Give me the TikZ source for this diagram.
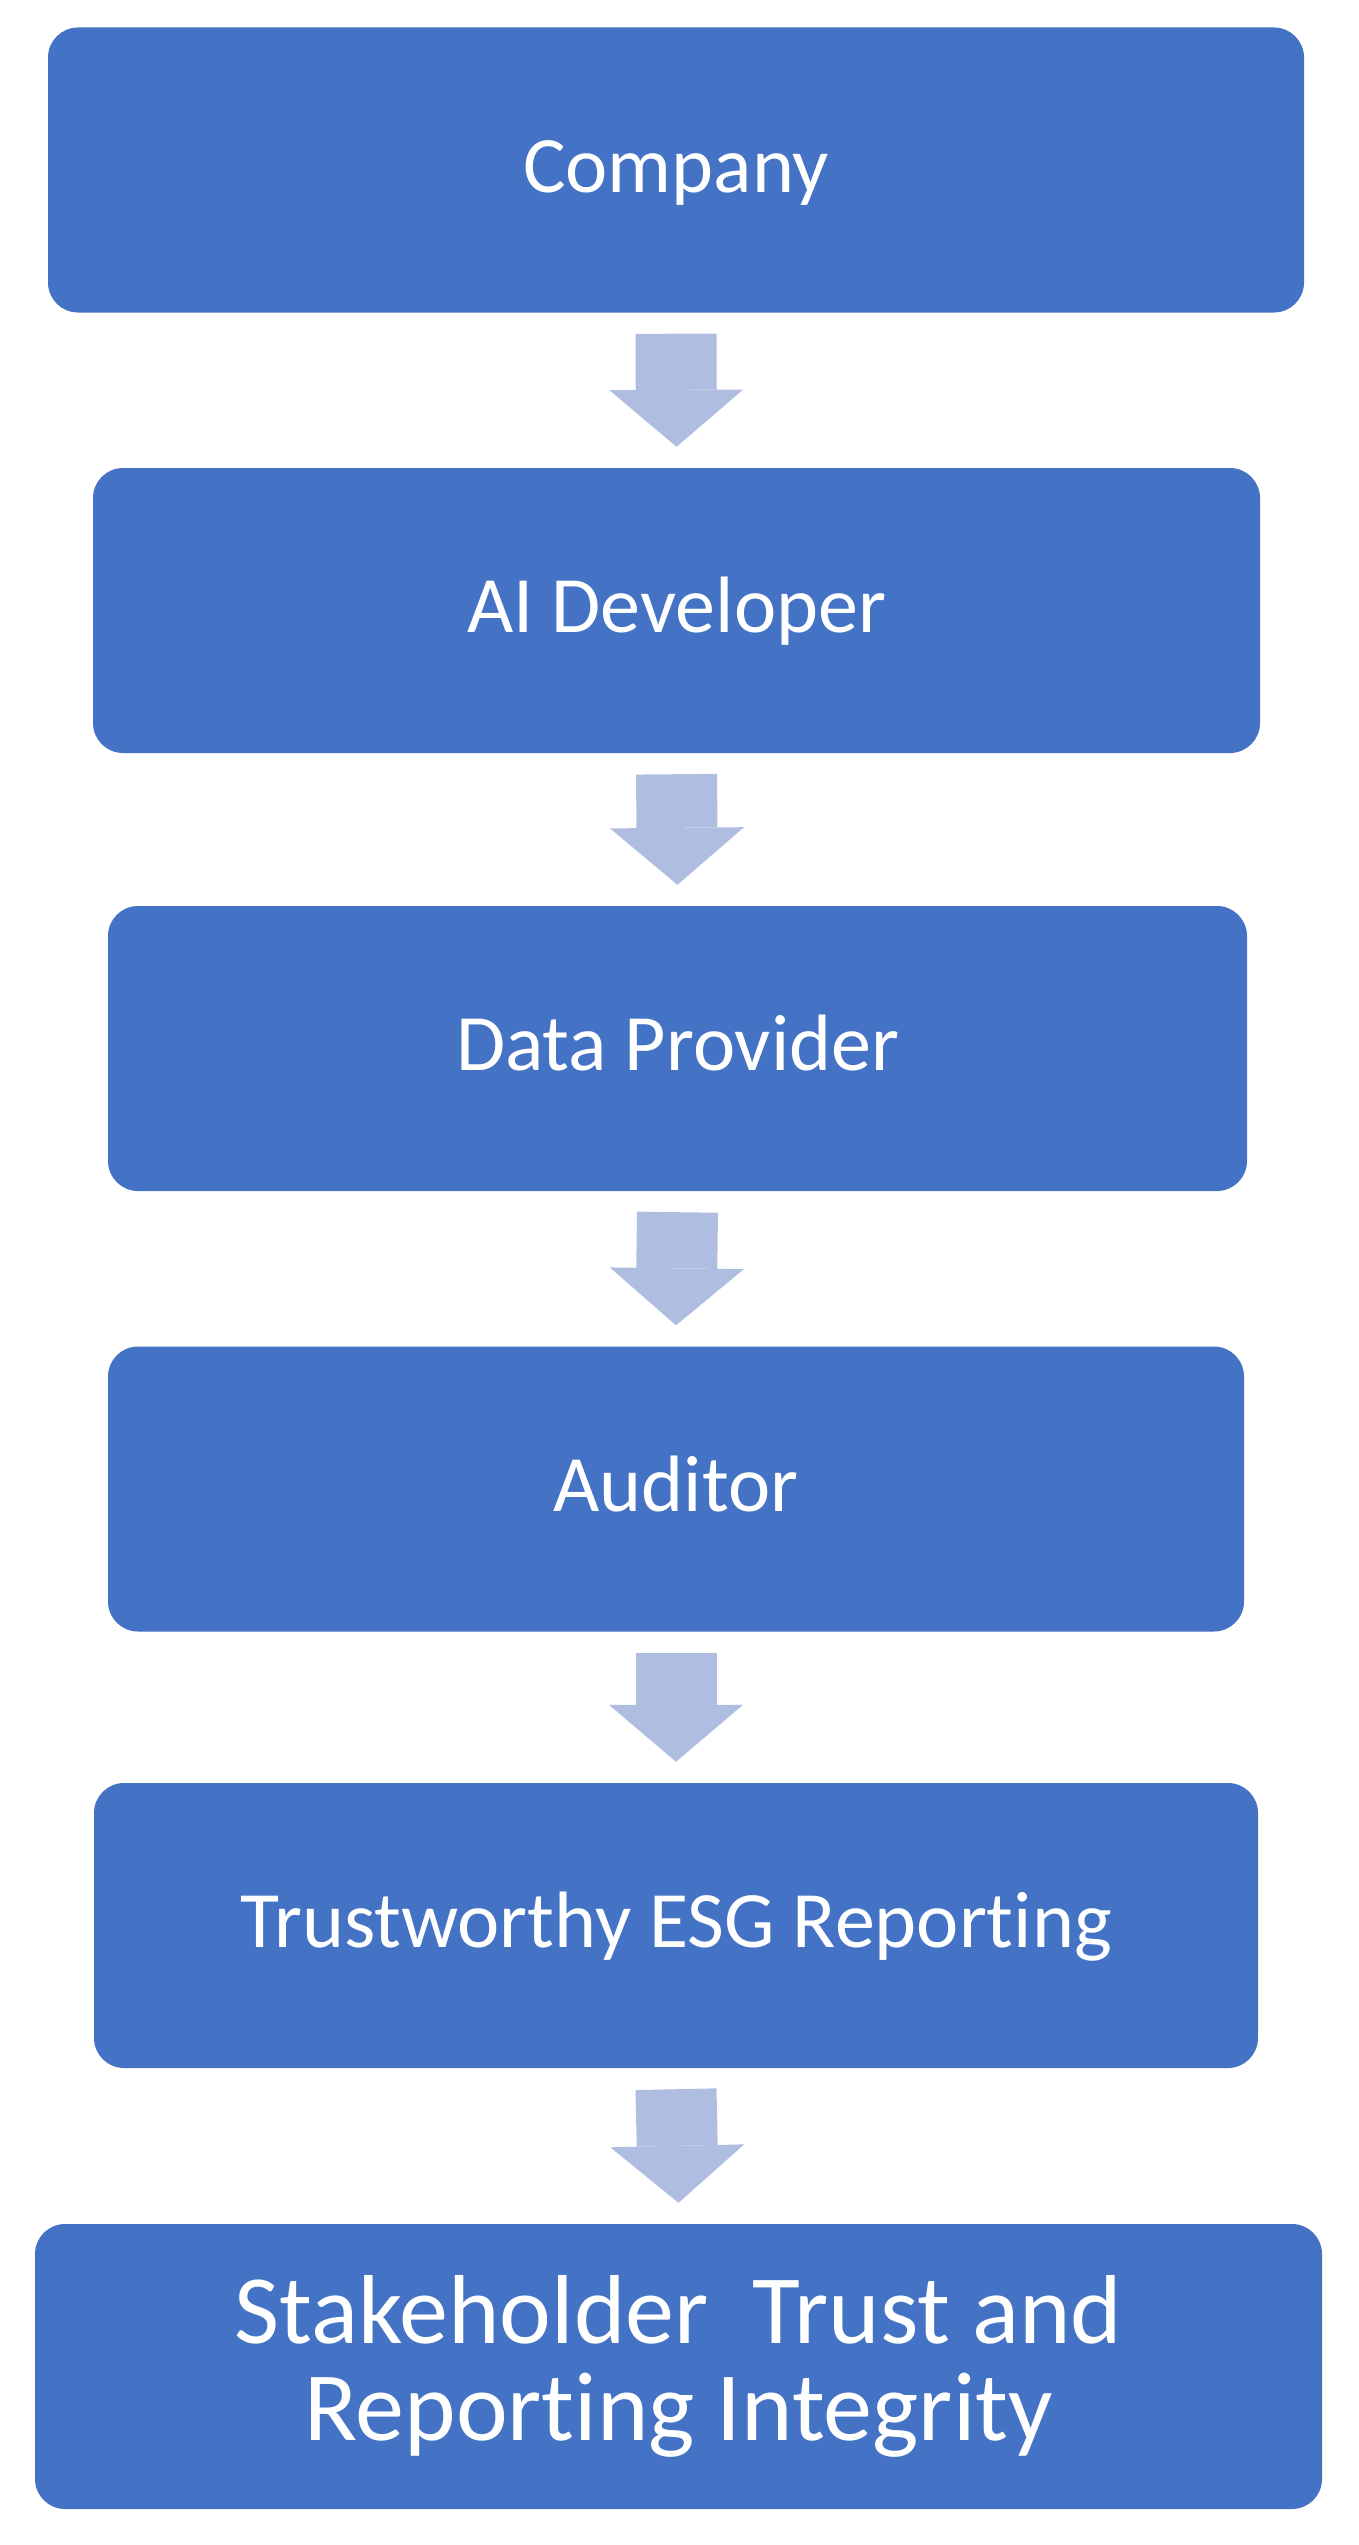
\documentclass[tikz,border=0pt]{standalone}
\usepackage{fontspec}
\setmainfont{Carlito}[RawFeature={-liga;-clig;-calt;-dlig}]
\usetikzlibrary{arrows.meta}
\definecolor{boxblue}{HTML}{4472C4}
\definecolor{arrowblue}{HTML}{AFBDE0}
\begin{document}
\begin{tikzpicture}[x=1pt,y=1pt]
 \tikzset{stage/.style={fill=boxblue, rounded corners=30pt, inner sep=0pt, text=white, font=\fontsize{80}{84}\selectfont, minimum height=285pt},
   oneline/.style={stage, text height=52pt, text depth=8pt},
   flow/.style={arrowblue, line width=81pt, -{Triangle[width=134pt,length=57pt,line width=0pt]}}}
  \useasboundingbox (0,0) rectangle (1358,-2545);
  \node[oneline, minimum width=1256pt] (company) at (676,-170) {Company};
  \node[oneline, minimum width=1167pt] (developer) at (676.5,-610.5) {AI Developer};
  \node[oneline, minimum width=1139pt] (provider) at (677.5,-1048.5) {Data Provider};
  \node[oneline, minimum width=1136pt] (auditor) at (676,-1489) {Auditor};
  \node[oneline, minimum width=1164pt] (esg) at (676,-1925.5) {Trustworthy ESG Repor\kern0pt ting};
  \node[stage, minimum width=1287pt, align=center, font=\fontsize{98}{97}\selectfont] (trust) at (678.5,-2366.5) {Stakeholder\ \ Trust and\\Repor\kern0pt ting Integrity};
  \draw[flow] ([yshift=-21pt]company.south) -- ([yshift=21pt]developer.north);
  \draw[flow] ([yshift=-21pt]developer.south) -- ([yshift=21pt]provider.north);
  \draw[flow] ([yshift=-21pt]provider.south) -- ([yshift=21pt]auditor.north);
  \draw[flow] ([yshift=-21pt]auditor.south) -- ([yshift=21pt]esg.north);
  \draw[flow] ([yshift=-21pt]esg.south) -- ([yshift=21pt]trust.north);
\end{tikzpicture}
\end{document}
